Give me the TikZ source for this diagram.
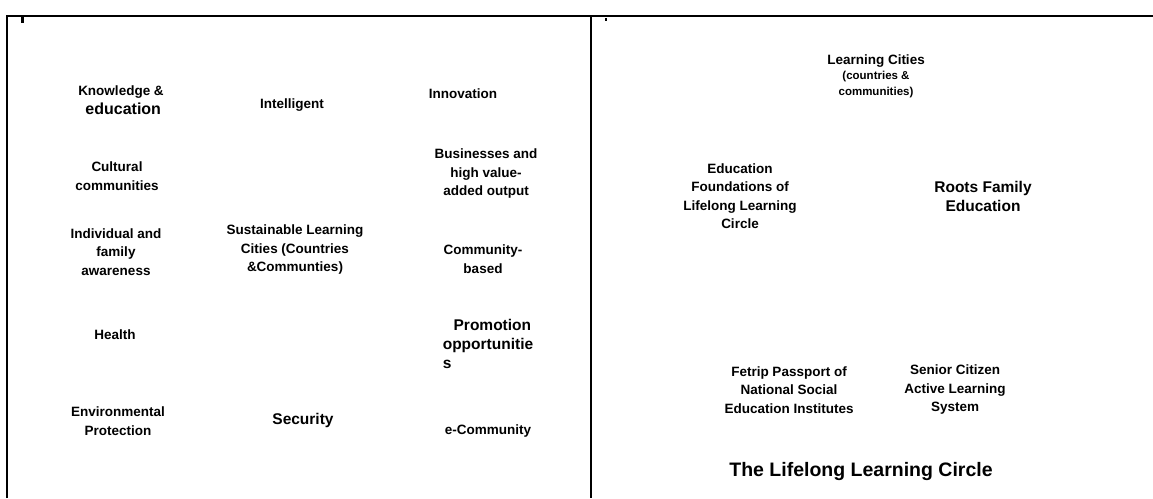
\documentclass[tikz,border=0pt]{standalone}
\usepackage{fontspec}
\setmainfont{Liberation Sans}
\usetikzlibrary{positioning}

\begin{document}
\begin{tikzpicture}[x=1pt, y=-1pt, line width=1.6pt,
  lbl/.style={font=\bfseries\fontsize{13.5}{18.5}\selectfont, align=center, inner sep=0pt},
  bigl/.style={lbl, font=\bfseries\fontsize{15.5}{19}\selectfont}]
\useasboundingbox (0,0) rectangle (1153,498);

% Frame and divider
\coordinate (tl) at (7,16);
\coordinate (tr) at (1153,16);
\coordinate (tm) at (591,16);
\draw (tl |- 0,498) -- (tl) -- (tr);
\draw (tm) -- (tm |- 0,498);
\fill (21,17) rectangle (24,23);
\fill (605,18) rectangle (607,21);

% Left panel: first column
\node (know) [lbl] at (121,100) {Knowledge \&\\{\fontsize{16}{19}\selectfont\ education}};
\node (cult) [lbl] at (117,176) {Cultural\\communities};
\node (indiv) [lbl] at (116,252) {Individual and\\family\\awareness};
\node (health) [lbl] at (115,335) {Health};
\node (env) [lbl] at (118,421) {Environmental\\Protection};

% Left panel: second column
\node (intel) [lbl] at (292,105) {Intelligent};
\node (sust) [lbl] at (295,250) {Sustainable Learning\\Cities (Countries\\\&Communties)};
\node (secur) [bigl] at (303,420) {Security};

% Left panel: third column
\node (innov) [lbl] at (463,94) {Innovation};
\node (busi) [lbl] at (486,174) {Businesses and\\high value-\\added output};
\node (comm) [lbl] at (483,259) {Community-\\based};
\node (promo) [bigl, align=left, anchor=west] at (442,344) {\hspace*{0.7em}Promotion\\opportunitie\\s};
\node (ecomm) [lbl] at (488,431) {e-Community};

% Right panel
\node (lc) [lbl] at (876,76) {Learning Cities\\[-3pt]{\fontsize{11.5}{14}\selectfont (countries \&}\\[-3pt]{\fontsize{11.5}{14}\selectfont communities)}};
\node (edu) [lbl] at (740,196) {Education\\Foundations of\\Lifelong Learning\\Circle};
\node (roots) [bigl] at (983,196) {Roots Family\\Education};
\node (fetrip) [lbl] at (789,390) {Fetrip Passport of\\National Social\\Education Institutes};
\node (senior) [lbl] at (955,390) {Senior Citizen\\Active Learning\\System};
\node (title) [lbl, font=\bfseries\fontsize{19.5}{22}\selectfont] at (861,471) {The Lifelong Learning Circle};
\end{tikzpicture}
\end{document}
